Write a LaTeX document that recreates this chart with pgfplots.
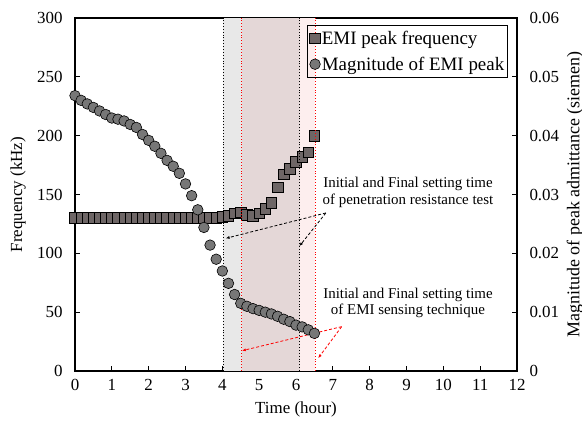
\documentclass[border=0pt]{standalone}
\usepackage{fontspec}
\setmainfont{Liberation Serif}
\usepackage{pgfplots}
\pgfplotsset{compat=1.18}
\usetikzlibrary{arrows.meta}
\definecolor{sqfill}{HTML}{6E6666}
\definecolor{cifill}{HTML}{777777}
\definecolor{shgray}{HTML}{E8E8E8}
\definecolor{shrose}{HTML}{E4D7D7}
\definecolor{shpink}{HTML}{FDEEEE}
\begin{document}
\begin{tikzpicture}
\pgfplotsset{
  base/.style={
    at={(0,0)}, anchor=south west, scale only axis,
    width=442bp, height=353bp, xmin=0, xmax=12, clip=false,
    /pgf/number format/assume math mode=true,
    tick label style={font=\fontsize{17}{17}\selectfont},
    label style={font=\fontsize{17}{19}\selectfont},
    tick align=inside, major tick length=5bp,
    tick style={black, line width=0.8bp},
  }
}
\begin{axis}[base,
  ymin=0, ymax=300,
  xtick={0,1,...,12}, ytick={0,50,...,300},
  xtick pos=bottom, ytick pos=left,
  axis line style={line width=1.2bp},
  xlabel={Time (hour)}, ylabel={Frequency (kHz)},
  xlabel style={at={(axis description cs:0.5,-0.11)}, anchor=center},
  ylabel style={at={(axis description cs:-0.129,0.5)}, anchor=center},
  yticklabel style={xshift=-9bp},
  xticklabel style={yshift=-5bp},
]
\fill[shgray] (axis cs:4.03,0) rectangle (axis cs:4.53,300);
\fill[shrose] (axis cs:4.53,0) rectangle (axis cs:6.10,300);
\fill[shpink] (axis cs:6.10,0) rectangle (axis cs:6.52,300);
\addplot[only marks, mark=square*, mark size=5.3bp,
  mark options={fill=sqfill, draw=black, line width=0.6bp}] table {
x y
0.0000 130
0.1667 130
0.3333 130
0.5000 130
0.6667 130
0.8333 130
1.0000 130
1.1667 130
1.3333 130
1.5000 130
1.6667 130
1.8333 130
2.0000 130
2.1667 130
2.3333 130
2.5000 130
2.6667 130
2.8333 130
3.0000 130
3.1667 130
3.3333 130
3.5000 130
3.6667 130
3.8333 130
4.0000 131
4.1667 132
4.3333 134
4.5000 135
4.6667 133
4.8333 132
5.0000 134
5.1667 138
5.3333 143
5.5000 156
5.6667 167
5.8333 172
6.0000 178
6.1667 182
6.3333 186
6.5000 200
};
\end{axis}
\begin{axis}[base,
  ymin=0, ymax=0.06,
  axis x line=none, axis y line*=right,
  axis line style={line width=1.2bp},
  ytick={0,0.01,0.02,0.03,0.04,0.05,0.06},
  scaled y ticks=false,
  yticklabel style={/pgf/number format/fixed, /pgf/number format/precision=2, xshift=9bp},
  ylabel={Magnitude of peak admittance (siemen)},
  ylabel style={at={(axis description cs:1.131,0.5)}, anchor=center, rotate=0, font=\fontsize{18}{20}\selectfont},
  legend style={at={(0.98,0.98)}, anchor=north east, draw=black, line width=0.8bp,
    fill=none, font=\fontsize{19}{21}\selectfont, inner xsep=2bp, inner ysep=4bp,
    row sep=8bp, nodes={inner sep=1.5bp}},
  legend cell align=left,
]
\addlegendimage{only marks, mark=square*, mark size=5.3bp,
  mark options={fill=sqfill, draw=black, line width=0.6bp}}
\addlegendentry{EMI peak frequency}
\addplot[only marks, mark=*, mark size=5.3bp,
  mark options={fill=cifill, draw=black, line width=0.6bp}] table {
x y
0.0000 0.0468
0.1667 0.0460
0.3333 0.0454
0.5000 0.0448
0.6667 0.0442
0.8333 0.0436
1.0000 0.0430
1.1667 0.0428
1.3333 0.0425
1.5000 0.0419
1.6667 0.0414
1.8333 0.0402
2.0000 0.0392
2.1667 0.0382
2.3333 0.0370
2.5000 0.0358
2.6667 0.0348
2.8333 0.0336
3.0000 0.0318
3.1667 0.0298
3.3333 0.0274
3.5000 0.0244
3.6667 0.0214
3.8333 0.0190
4.0000 0.0170
4.1667 0.0149
4.3333 0.0130
4.5000 0.0115
4.6667 0.0110
4.8333 0.0106
5.0000 0.0103
5.1667 0.0100
5.3333 0.0097
5.5000 0.0093
5.6667 0.0088
5.8333 0.0084
6.0000 0.0078
6.1667 0.0075
6.3333 0.0070
6.5000 0.0064
};
\addlegendentry{Magnitude of EMI peak}
\draw[black, dotted, line width=0.9bp] (axis cs:4.03,0) -- (axis cs:4.03,0.06);
\draw[black, dotted, line width=0.9bp] (axis cs:6.10,0) -- (axis cs:6.10,0.06);
\draw[red, dotted, line width=0.9bp] (axis cs:4.53,0) -- (axis cs:4.53,0.06);
\draw[red, dotted, line width=0.9bp] (axis cs:6.52,0) -- (axis cs:6.52,0.06);
\node[align=center, font=\fontsize{15}{16.7}\selectfont] at (axis cs:9.04,0.03036)
  {Initial and Final setting time\\of penetration resistance test};
\node[align=center, font=\fontsize{15}{16.7}\selectfont] at (axis cs:9.04,0.01156)
  {Initial and Final setting time\\of EMI sensing technique};
\draw[black, line width=0.8bp, dash pattern=on 3bp off 2bp, -{Latex[length=4bp,width=3bp]}]
  (axis cs:6.81,0.02686) -- (axis cs:4.09,0.02254);
\draw[black, line width=0.8bp, dash pattern=on 3bp off 2bp, -{Latex[length=4bp,width=3bp]}]
  (axis cs:6.81,0.02686) -- (axis cs:6.09,0.0212);
\draw[red, line width=0.8bp, dash pattern=on 3bp off 2bp, -{Latex[length=4bp,width=3bp]}]
  (axis cs:7.24,0.00754) -- (axis cs:4.53,0.00344);
\draw[red, line width=0.8bp, dash pattern=on 3bp off 2bp, -{Latex[length=4bp,width=3bp]}]
  (axis cs:7.24,0.00754) -- (axis cs:6.6,0.00216);
\end{axis}
\pgfresetboundingbox
\path[use as bounding box] (-75bp,-61bp) rectangle (507bp,371bp);
\end{tikzpicture}
\end{document}
